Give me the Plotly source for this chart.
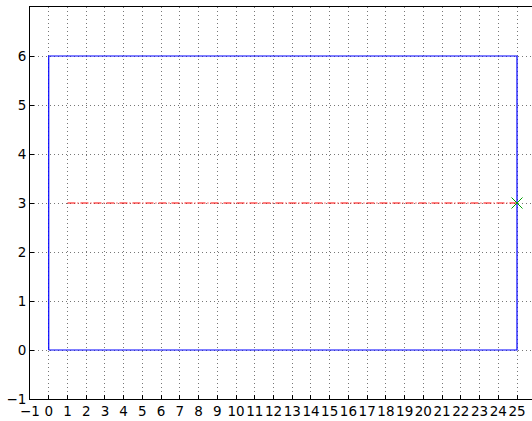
import plotly.graph_objects as go

rect_x = [0, 0, 25, 25, 0]
rect_y = [0, 6, 6, 0, 0]
line_x = [1, 25]
line_y = [3, 3]
mark_x = [25]
mark_y = [3]
x_ticks = list(range(-1, 26))
y_ticks = list(range(-1, 7))

fig = go.Figure()
fig.add_trace(go.Scatter(x=rect_x, y=rect_y, mode="lines",
                         line=dict(color="#0000ff", width=1.2), hoverinfo="skip"))
fig.add_trace(go.Scatter(x=line_x, y=line_y, mode="lines",
                         line=dict(color="#ff0000", width=1, dash="8px,2px,1px,2px"), hoverinfo="skip"))
fig.add_trace(go.Scatter(x=mark_x, y=mark_y, mode="markers",
                         marker=dict(symbol="x-thin", size=11, line=dict(color="#00a000", width=1)),
                         hoverinfo="skip"))

axis_common = dict(showgrid=True, gridcolor="#777777", griddash="1px,3px", gridwidth=0.7,
                   zeroline=False, showline=True, linecolor="black", linewidth=1,
                   ticks="inside", ticklen=4, tickcolor="black", tickangle=0,
                   automargin=False,
                   tickfont=dict(family="DejaVu Sans", size=13.5, color="black"))

fig.update_layout(
    width=532, height=421,
    margin=dict(l=30, r=0, t=7, b=22),
    paper_bgcolor="white", plot_bgcolor="white",
    showlegend=False,
    xaxis=dict(range=[-1, 25.8], tickmode="array", tickvals=x_ticks,
               ticktext=[str(v).replace("-", "\u2212") for v in x_ticks],
               mirror=True, **axis_common),
    yaxis=dict(range=[-1, 7], tickmode="array", tickvals=y_ticks,
               ticktext=[str(v).replace("-", "\u2212") for v in y_ticks],
               mirror=False, **axis_common),
)

fig.write_html("out.html", config={"displayModeBar": False},
               post_script="document.body.style.margin='0';document.body.style.overflow='hidden';")
